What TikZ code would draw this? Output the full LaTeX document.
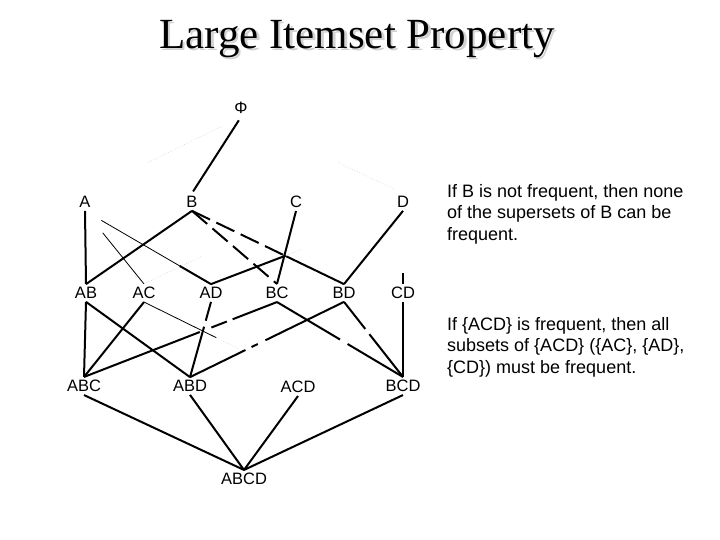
\documentclass[tikz,border=0pt]{standalone}
\usepackage{fontspec}
\setmainfont{Liberation Serif}
\newfontfamily\arialfont{Liberation Sans}
\usetikzlibrary{calc}

\begin{document}
\begin{tikzpicture}[x=1pt,y=-1pt,
  set/.style={font=\arialfont\fontsize{16.5}{19}\selectfont, inner sep=3pt},
  edge/.style={line width=2pt, black},
  thinedge/.style={line width=0.8pt, black},
  faint/.style={line width=0.6pt, gray!40, dotted},
  broken/.style={line width=2pt, dash pattern=on 20pt off 7pt},
  note/.style={anchor=north west, align=left, inner sep=0pt,
    font=\arialfont\fontsize{18}{21.5}\selectfont}]
  \useasboundingbox (0,0) rectangle (720,540);

  % Title with its shadow
  \node[gray!35, font=\fontsize{43}{50}\selectfont] (shadow) at (359.5,41.5) {Large Itemset Property};
  \node[font=\fontsize{43}{50}\selectfont] (title) at (357,39) {Large Itemset Property};

  % Lattice of itemsets
  \node[set] (Phi) at (241,108) {Φ};
  \node[set] (A) at (85,202) {A};
  \node[set] (B) at (192,202) {B};
  \node[set] (C) at (296,202) {C};
  \node[set] (D) at (403,202) {D};
  \node[set] (AB) at (86,293) {AB};
  \node[set] (AC) at (144,293) {AC};
  \node[set] (AD) at (211,293) {AD};
  \node[set] (BC) at (277,293) {BC};
  \node[set] (BD) at (344,293) {BD};
  \node[set] (CD) at (403,293) {CD};
  \node[set] (ABC) at (84,386) {ABC};
  \node[set] (ABD) at (190,386) {ABD};
  \node[set] (ACD) at (298,387) {ACD};
  \node[set] (BCD) at (403,386) {BCD};
  \node[set] (ABCD) at (244,479) {ABCD};

  % Phi to the single items
  \draw[faint] ($(Phi.south)!0.12!(A.north)$) -- ($(Phi.south)!0.6!(A.north)$);
  \draw[edge, shorten <=4pt, shorten >=2pt] (Phi.south) -- (B.north);
  \draw[faint] ($(Phi.south)!0.6!(D.north)$) -- ($(Phi.south)!0.95!(D.north)$);

  % single items to pairs
  \draw[edge] (A.south) -- (AB.north);
  \draw[edge] (B.south) -- (AB.north);
  \draw[broken] (B.south) -- (BC.north);
  \draw[broken] (B.south) -- ($(B.south)!0.62!(BD.north)$);
  \draw[edge] ($(B.south)!0.62!(BD.north)$) -- (BD.north);
  \draw[edge] (C.south) -- (BC.north);
  \draw[edge] (D.south) -- (BD.north);
  \draw[thinedge] ($(A.south)!0.3!(AC.north)$) -- (AC.north);
  \draw[thinedge] ($(A.south)!0.13!(AD.north)$) -- ($(A.south)!0.75!(AD.north)$);
  \draw[edge] ($(A.south)!0.75!(AD.north)$) -- (AD.north);
  \draw[faint] (AC.north) -- ($(AC.north)!0.38!(C.south)$);
  \draw[edge] (AD.north) -- ($(AD.north)!0.39!(D.south)$);
  \draw[faint] ($(AD.north)!0.39!(D.south)$) -- ($(AD.north)!0.47!(D.south)$);
  \draw[edge] ($(D.south)!0.85!(CD.north)$) -- (CD.north);

  % pairs to triples
  \draw[edge] (AB.south) -- (ABC.north);
  \draw[edge] (AB.south) -- (ABD.north);
  \draw[edge] (AC.south) -- (ABC.north);
  \draw[thinedge] (AC.south) -- ($(AC.south)!0.47!(ACD.north)$);
  \draw[faint] ($(AC.south)!0.47!(ACD.north)$) -- ($(AC.south)!0.62!(ACD.north)$);
  \draw[edge] (AD.south) -- ($(AD.south)!0.25!(ABD.north)$);
  \draw[edge] ($(AD.south)!0.33!(ABD.north)$) -- (ABD.north);
  \draw[edge] (ABC.north) -- ($(ABC.north)!0.6!(BC.south)$);
  \draw[edge] ($(ABC.north)!0.66!(BC.south)$) -- ($(ABC.north)!0.74!(BC.south)$);
  \draw[edge] ($(ABC.north)!0.77!(BC.south)$) -- (BC.south);
  \draw[edge] (ABD.north) -- ($(ABD.north)!0.36!(BD.south)$);
  \draw[edge] ($(ABD.north)!0.4!(BD.south)$) -- ($(ABD.north)!0.44!(BD.south)$);
  \draw[edge] ($(ABD.north)!0.49!(BD.south)$) -- (BD.south);
  \draw[edge] (BC.south) -- ($(BC.south)!0.5!(BCD.north)$);
  \draw[edge] ($(BC.south)!0.56!(BCD.north)$) -- (BCD.north);
  \draw[edge] (BD.south) -- ($(BD.south)!0.36!(BCD.north)$);
  \draw[edge] ($(BD.south)!0.43!(BCD.north)$) -- (BCD.north);
  \draw[edge] (CD.south) -- (BCD.north);

  % triples to ABCD
  \draw[edge] (ABC.south) -- (ABCD.north);
  \draw[edge] (ABD.south) -- (ABCD.north);
  \draw[edge] (ACD.south) -- (ABCD.north);
  \draw[edge] (BCD.south) -- (ABCD.north);

  % Notes
  \node[note] (note1) at (447,184) {If B is not frequent, then none\\of the supersets of B can be\\frequent.};
  \node[note] (note2) at (447,317) {If \{ACD\} is frequent, then all\\subsets of \{ACD\} (\{AC\}, \{AD\},\\\{CD\}) must be frequent.};

\end{tikzpicture}
\end{document}
